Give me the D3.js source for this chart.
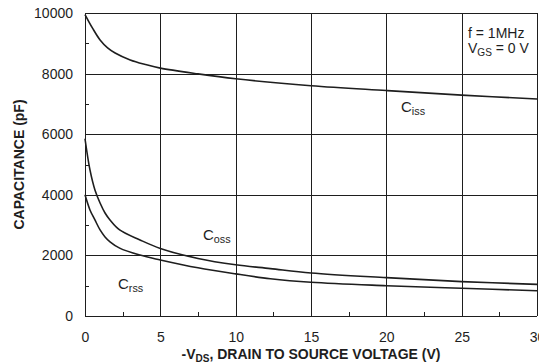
<!DOCTYPE html>
<html>
<head>
<meta charset="utf-8">
<script src="https://cdn.jsdelivr.net/npm/d3@7"></script>
<style>
  html, body { margin: 0; padding: 0; background: #fff; }
  svg { display: block; font-family: "Liberation Sans", Arial, sans-serif; }
</style>
</head>
<body>
<svg id="chart" width="539" height="364"></svg>
<script>
// Capacitance vs. drain-to-source voltage (f = 1 MHz, VGS = 0 V)
const xTicks = [0, 5, 10, 15, 20, 25, 30];
const yTicks = [0, 2000, 4000, 6000, 8000, 10000];
const xMinor = [2.5, 7.5, 12.5, 17.5, 22.5, 27.5];
const yMinor = [1000, 3000, 5000, 7000, 9000];

const cissV = [0, 0.5, 1, 1.5, 2, 3, 4, 5, 7.5, 10, 15, 20, 25, 30];
const cissC = [9950, 9500, 9110, 8850, 8680, 8450, 8300, 8180, 7990, 7830, 7600, 7440, 7290, 7160];

const cossV = [0, 0.33, 0.66, 1, 1.33, 1.66, 2.3, 3.65, 5, 7.5, 10, 12.3, 15, 20, 25, 30];
const cossC = [5850, 4820, 4160, 3730, 3400, 3170, 2840, 2510, 2230, 1900, 1690, 1565, 1420, 1265, 1135, 1045];

const crssV = [0, 0.33, 0.66, 1, 1.33, 1.66, 2.3, 3.65, 5, 7.5, 10, 12.3, 15, 20, 25, 30];
const crssC = [4000, 3500, 3170, 2840, 2610, 2450, 2240, 2010, 1850, 1590, 1390, 1230, 1112, 1000, 914, 835];

const svg = d3.select("#chart");
const m = { left: 85, right: 537, top: 13, bottom: 316 };

const x = d3.scaleLinear().domain([0, 30]).range([m.left, m.right]);
const y = d3.scaleLinear().domain([0, 10000]).range([m.bottom, m.top]);

const ink = "#1e1e1e";

// grid
const grid = svg.append("g").attr("stroke", ink).attr("stroke-width", 1).attr("shape-rendering", "crispEdges");
grid.selectAll("line.h").data(yTicks).join("line")
  .attr("x1", m.left).attr("x2", m.right)
  .attr("y1", d => Math.round(y(d)) + 0.5).attr("y2", d => Math.round(y(d)) + 0.5);
grid.selectAll("line.v").data(xTicks).join("line")
  .attr("y1", m.top).attr("y2", m.bottom)
  .attr("x1", d => Math.round(x(d)) + 0.5).attr("x2", d => Math.round(x(d)) + 0.5);

// minor ticks pointing inward
grid.selectAll("line.ym").data(yMinor).join("line")
  .attr("x1", m.left).attr("x2", m.left + 4)
  .attr("y1", d => Math.round(y(d)) + 0.5).attr("y2", d => Math.round(y(d)) + 0.5);
grid.selectAll("line.xm").data(xMinor).join("line")
  .attr("y1", m.bottom).attr("y2", m.bottom - 4)
  .attr("x1", d => Math.round(x(d)) + 0.5).attr("x2", d => Math.round(x(d)) + 0.5);

// axis labels via d3 axes (lines hidden, text kept)
const yAxis = svg.append("g").attr("transform", `translate(${m.left},0)`)
  .call(d3.axisLeft(y).tickValues(yTicks).tickFormat(d3.format("d")).tickSize(0).tickPadding(12));
const xAxis = svg.append("g").attr("transform", `translate(0,${m.bottom})`)
  .call(d3.axisBottom(x).tickValues(xTicks).tickFormat(d3.format("d")).tickSize(0).tickPadding(16));
[yAxis, xAxis].forEach(a => {
  a.select(".domain").remove();
  a.selectAll("text").attr("font-size", 14).attr("fill", ink)
    .attr("font-family", "'Liberation Sans', Arial, sans-serif");
});

// curves
const line = d3.line().x(d => x(d[0])).y(d => y(d[1])).curve(d3.curveCatmullRom.alpha(0.5));
[[cissV, cissC], [cossV, cossC], [crssV, crssC]].forEach(([v, c]) => {
  svg.append("path")
    .datum(v.map((d, i) => [d, c[i]]))
    .attr("fill", "none").attr("stroke", ink).attr("stroke-width", 1.6)
    .attr("d", line);
});

// text helper with subscript
function label(px, py, main, sub, rest, size) {
  const t = svg.append("text").attr("x", px).attr("y", py)
    .attr("font-size", size).attr("fill", ink);
  t.append("tspan").text(main);
  t.append("tspan").attr("font-size", size * 0.72).attr("dy", 3).text(sub);
  if (rest) t.append("tspan").attr("dy", -3).text(rest);
  return t;
}

label(401, 112, "C", "iss", null, 15);
label(203, 240, "C", "oss", null, 15);
label(118, 289, "C", "rss", null, 15);

svg.append("text").attr("x", 468).attr("y", 38).attr("font-size", 14).attr("fill", ink).text("f = 1MHz");
label(468, 53, "V", "GS", " = 0 V", 14);

// axis titles
svg.append("text")
  .attr("transform", `translate(24,${(m.top + m.bottom) / 2}) rotate(-90)`)
  .attr("text-anchor", "middle").attr("font-size", 14).attr("font-weight", "bold").attr("fill", ink)
  .text("CAPACITANCE (pF)");

const xt = svg.append("text")
  .attr("x", (m.left + m.right) / 2).attr("y", 359)
  .attr("text-anchor", "middle").attr("font-size", 14).attr("font-weight", "bold").attr("fill", ink);
xt.append("tspan").text("-V");
xt.append("tspan").attr("font-size", 10).attr("dy", 3).text("DS");
xt.append("tspan").attr("dy", -3).text(", DRAIN TO SOURCE VOLTAGE (V)");
</script>
</body>
</html>
